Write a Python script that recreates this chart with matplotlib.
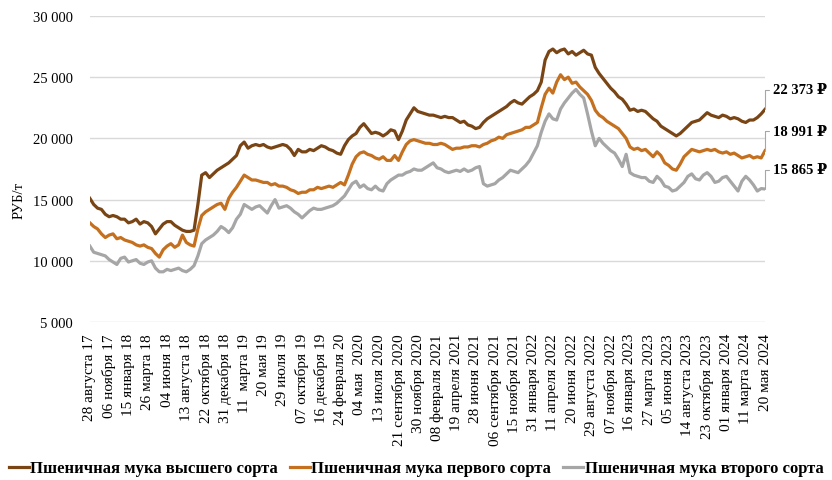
import numpy as np
import matplotlib
matplotlib.use('Agg')
import matplotlib.pyplot as plt
from matplotlib.ticker import FuncFormatter

# weekly prices, read every 2nd week, thousand RUB per tonne
premium = [
    15.1, 14.6, 14.3, 14.2, 13.8, 13.6, 13.7, 13.6, 13.4, 13.4, 13.1, 13.2, 13.4, 13.0, 13.2, 13.1,
    12.8, 12.2, 12.6, 13.0, 13.2, 13.2, 12.9, 12.7, 12.5, 12.4, 12.4, 12.5, 14.6, 17.0, 17.2, 16.8,
    17.1, 17.4, 17.6, 17.8, 18.0, 18.3, 18.6, 19.4, 19.7, 19.2, 19.4, 19.5, 19.4, 19.5, 19.3, 19.2,
    19.3, 19.4, 19.5, 19.4, 19.1, 18.6, 19.1, 18.9, 18.9, 19.1, 19.0, 19.2, 19.4, 19.3, 19.1, 19.0,
    18.8, 18.7, 19.4, 19.9, 20.2, 20.4, 20.9, 21.2, 20.8, 20.4, 20.5, 20.4, 20.2, 20.4, 20.7, 20.6,
    19.9, 20.6, 21.5, 22.0, 22.5, 22.2, 22.1, 22.0, 21.9, 21.9, 21.8, 21.7, 21.8, 21.7, 21.7, 21.5,
    21.3, 21.4, 21.1, 21.0, 20.8, 20.9, 21.3, 21.6, 21.8, 22.0, 22.2, 22.4, 22.6, 22.9, 23.1, 22.9,
    22.8, 23.1, 23.4, 23.6, 23.9, 24.6, 26.4, 27.1, 27.3, 27.0, 27.2, 27.3, 26.9, 27.1, 26.8, 27.0,
    27.2, 26.9, 26.8, 25.8, 25.3, 24.9, 24.5, 24.1, 23.8, 23.4, 23.2, 22.8, 22.3, 22.4, 22.2, 22.3,
    22.2, 21.9, 21.6, 21.4, 21.0, 20.8, 20.6, 20.4, 20.2, 20.4, 20.7, 21.0, 21.3, 21.4, 21.5, 21.8,
    22.1, 21.9, 21.8, 21.7, 21.9, 21.8, 21.6, 21.7, 21.6, 21.4, 21.3, 21.5, 21.5, 21.7, 22.0, 22.373,
]
first = [
    13.1, 12.8, 12.6, 12.2, 11.9, 12.1, 12.2, 11.8, 11.9, 11.7, 11.6, 11.5, 11.3, 11.2, 11.3, 11.1,
    11.0, 10.6, 10.3, 10.9, 11.2, 11.4, 11.1, 11.3, 12.1, 11.5, 11.3, 11.2, 12.6, 13.7, 14.0, 14.2,
    14.4, 14.6, 14.7, 14.2, 15.1, 15.6, 16.0, 16.5, 17.0, 16.8, 16.6, 16.6, 16.5, 16.4, 16.4, 16.2,
    16.3, 16.1, 16.1, 16.0, 15.8, 15.7, 15.5, 15.6, 15.6, 15.8, 15.8, 16.0, 15.9, 16.0, 16.1, 16.0,
    16.2, 16.4, 16.2, 17.0, 17.9, 18.5, 18.8, 18.9, 18.7, 18.6, 18.4, 18.3, 18.5, 18.2, 18.2, 18.6,
    18.2, 18.9, 19.5, 19.8, 19.9, 19.8, 19.7, 19.6, 19.6, 19.5, 19.5, 19.6, 19.5, 19.3, 19.1, 19.2,
    19.2, 19.3, 19.3, 19.4, 19.4, 19.3, 19.5, 19.6, 19.8, 19.9, 20.1, 20.0, 20.3, 20.4, 20.5, 20.6,
    20.7, 20.9, 20.9, 21.1, 21.3, 22.5, 23.6, 24.1, 23.7, 24.6, 25.2, 24.8, 25.0, 24.5, 24.6, 24.2,
    23.9, 23.6, 23.1, 22.3, 21.9, 21.7, 21.4, 21.2, 21.0, 20.8, 20.4, 20.0, 19.3, 19.1, 19.2, 19.0,
    19.1, 18.8, 18.5, 18.9, 18.6, 18.0, 17.8, 17.5, 17.4, 17.9, 18.5, 18.8, 19.1, 19.0, 18.9, 19.0,
    19.1, 19.0, 19.1, 18.9, 18.8, 18.9, 18.7, 18.8, 18.6, 18.4, 18.5, 18.6, 18.4, 18.5, 18.4, 18.991,
]
second = [
    11.2, 10.7, 10.6, 10.5, 10.4, 10.1, 9.9, 9.7, 10.2, 10.3, 9.9, 10.0, 10.1, 9.8, 9.7, 9.9,
    10.0, 9.4, 9.1, 9.1, 9.3, 9.2, 9.3, 9.4, 9.2, 9.1, 9.3, 9.6, 10.4, 11.4, 11.7, 11.9,
    12.1, 12.4, 12.8, 12.6, 12.3, 12.7, 13.4, 13.8, 14.6, 14.4, 14.2, 14.4, 14.5, 14.2, 13.9, 14.5,
    15.0, 14.3, 14.4, 14.5, 14.3, 14.0, 13.8, 13.5, 13.8, 14.1, 14.3, 14.2, 14.2, 14.3, 14.4, 14.5,
    14.7, 15.0, 15.3, 15.8, 16.3, 16.5, 16.0, 16.2, 15.9, 15.8, 16.1, 15.8, 15.7, 16.3, 16.6, 16.8,
    17.0, 17.0, 17.2, 17.3, 17.5, 17.4, 17.4, 17.6, 17.8, 18.0, 17.6, 17.5, 17.3, 17.2, 17.3, 17.4,
    17.3, 17.5, 17.3, 17.4, 17.6, 17.7, 16.3, 16.1, 16.2, 16.3, 16.6, 16.8, 17.1, 17.4, 17.3, 17.2,
    17.5, 17.8, 18.2, 18.8, 19.4, 20.5, 21.4, 22.0, 21.6, 21.5, 22.4, 22.9, 23.3, 23.7, 24.0, 23.6,
    23.3, 22.0, 20.6, 19.4, 20.0, 19.6, 19.3, 19.0, 18.8, 18.3, 17.7, 18.7, 17.2, 17.0, 16.9, 16.8,
    16.8, 16.5, 16.4, 16.9, 16.6, 16.1, 16.0, 15.7, 15.8, 16.1, 16.4, 16.9, 17.1, 16.7, 16.6, 17.0,
    17.2, 16.9, 16.4, 16.5, 16.8, 16.9, 16.5, 16.1, 15.7, 16.5, 16.9, 16.6, 16.2, 15.7, 15.9, 15.865,
]
tick_labels = [
    '28 августа 17', '06 ноября 17', '15 января 18', '26 марта 18', '04 июня 18',
    '13 августа 18', '22 октября 18', '31 декабря 18', '11  марта 19', '20 мая 19',
    '29 июля 19', '07 октября 19', '16 декабря 19', '24 февраля 20', '04 мая  2020',
    '13 июля 2020', '21 сентября 2020', '30 ноября 2020', '08 февраля 2021', '19 апреля 2021',
    '28 июня 2021', '06 сентября 2021', '15 ноября 2021', '31 января 2022', '11 апреля 2022',
    '20 июня 2022', '29 августа 2022', '07 ноября 2022', '16 января 2023', '27 марта 2023',
    '05 июня 2023', '14 августа 2023', '23 октября 2023', '01 января 2024', '11 марта 2024',
    '20 мая 2024',
]
names = ['Пшеничная мука высшего сорта', 'Пшеничная мука первого сорта',
         'Пшеничная мука второго сорта']
colors = ['#7a4515', '#c4701e', '#a6a6a6']

serif = ['Liberation Serif', 'DejaVu Serif']
plt.rcParams['font.family'] = serif

n = len(premium)
weeks = np.arange(n) * 2
ticks = np.arange(len(tick_labels)) * 10

fig = plt.figure(figsize=(8.32, 4.81), dpi=100)
ax = fig.add_axes([0.108, 0.3285, 0.8115, 0.6362])

for vals, name, c in zip([premium, first, second], names, colors):
    ax.plot(weeks, np.array(vals) * 1000, color=c, lw=2.3, label=name,
            solid_joinstyle='round')

ax.set_xlim(0, weeks[-1])
ax.set_ylim(5000, 30000)
ax.set_yticks(np.arange(5000, 30001, 5000))
ax.yaxis.set_major_formatter(FuncFormatter(lambda v, p: f'{int(v):,}'.replace(',', ' ')))
ax.set_xticks(ticks)
ax.set_xticklabels(tick_labels, rotation=90, fontsize=11)
ax.tick_params(axis='both', length=0)
ax.tick_params(axis='y', labelsize=10.5, pad=12)
ax.tick_params(axis='x', pad=8)
ax.grid(axis='y', color='#d9d9d9', lw=1)
ax.set_axisbelow(True)
for s in ax.spines.values():
    s.set_visible(False)
ax.set_ylabel('РУБ/т', fontsize=10.5)
ax.yaxis.set_label_coords(-0.095, 0.4)

# end-of-line value labels
for vals in [premium, first, second]:
    v = vals[-1] * 1000
    txt = f'{round(v):,}'.replace(',', ' ') + ' ₽'
    ax.annotate(txt, xy=(weeks[-1], v), xytext=(6, 14), textcoords='offset points',
                ha='left', va='center', fontsize=10.5, fontweight='bold',
                annotation_clip=False,
                arrowprops=dict(arrowstyle='-', color='#a6a6a6', lw=0.8,
                                connectionstyle='angle,angleA=0,angleB=90,rad=0',
                                shrinkA=1, shrinkB=0))

fig.legend(loc='center', bbox_to_anchor=(0.5, 0.024), ncol=3, frameon=False,
           handlelength=1.2, handletextpad=0.1, columnspacing=0.7,
           prop={'family': serif, 'weight': 'bold', 'size': 12})

fig.savefig('out.png', dpi=100, facecolor='white')
